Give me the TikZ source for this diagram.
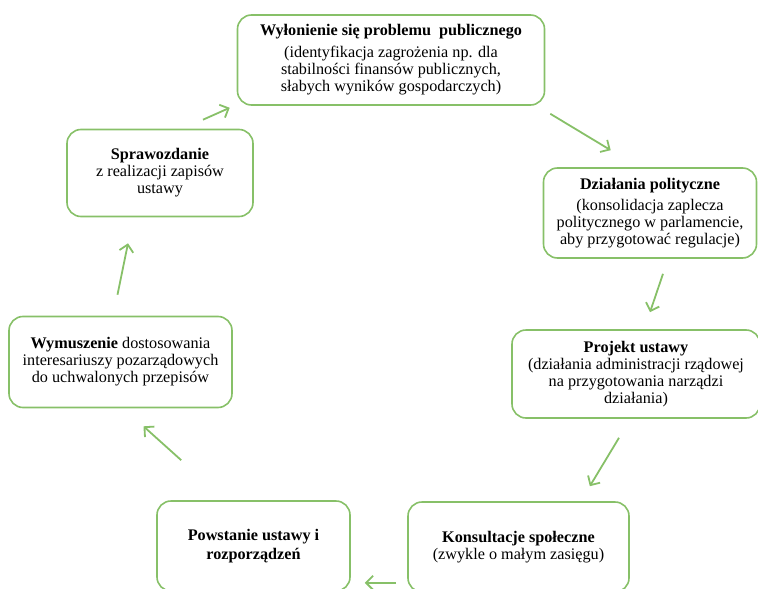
\documentclass[tikz,border=0pt]{standalone}
\usepackage{fontspec}
\setmainfont{Liberation Serif}
\usetikzlibrary{arrows.meta}
\definecolor{zielony}{RGB}{135,192,104}
\begin{document}
\begin{tikzpicture}[x=1pt,y=-1pt,
  etap/.style={draw=zielony, line width=1.6pt, rounded corners=14pt, rectangle, align=center,
    inner sep=0pt, font=\fontsize{16.2}{17}\selectfont},
  strz/.style={draw=zielony, line width=1.8pt, -{Straight Barb[length=7pt,width=14pt]}}]
\useasboundingbox (0,0) rectangle (758,589);
\node[etap, minimum width=307pt, minimum height=90pt] (w) at (391,60) {\textbf{Wyłonienie się problemu\ \ publicznego}\\[5pt](identyfikacja zagrożenia np. dla\\stabilności finansów publicznych,\\słabych wyników gospodarczych)};
\node[etap, minimum width=213pt, minimum height=90pt] (d) at (650,213) {\textbf{Działania polityczne}\\[4pt](konsolidacja zaplecza\\politycznego w parlamencie,\\aby przygotować regulacje)};
\node[etap, minimum width=248pt, minimum height=88pt] (p) at (636,374) {\textbf{Projekt ustawy}\\(działania administracji rządowej\\na przygotowania narządzi\\działania)};
\node[etap, minimum width=221pt, minimum height=90pt] (k) at (518.5,547) {\textbf{Konsultacje społeczne}\\(zwykle o małym zasięgu)};
\node[etap, minimum width=193pt, minimum height=90pt] (u) at (253.5,546) {\textbf{Powstanie ustawy i}\\[2pt]\textbf{rozporządzeń}};
\node[etap, minimum width=223pt, minimum height=91pt] (m) at (120.5,362) {\textbf{Wymuszenie} dostosowania\\interesariuszy pozarządowych\\do uchwalonych przepisów};
\node[etap, minimum width=186pt, minimum height=87pt] (s) at (160,173) {\textbf{Sprawozdanie}\\z realizacji zapisów\\ustawy};
\draw[strz] ([shift={(43,-9)}]s.north) -- ([shift={(-7,2)}]w.south west);
\draw[strz] ([shift={(5,8)}]w.south east) -- ([shift={(68,-17)}]d.north west);
\draw[strz] ([shift={(13,15)}]d.south) -- ([shift={(14,-17)}]p.north);
\draw[strz] ([shift={(-17,19)}]p.south) -- ([shift={(-40,-15)}]k.north east);
\draw[strz] ([shift={(-11,-10)}]k.south west) -- ([shift={(14,-9)}]u.south east);
\draw[strz] ([shift={(25,-40)}]u.north west) -- ([shift={(23,18)}]m.south);
\draw[strz] ([shift={(-3,-21)}]m.north) -- ([shift={(-32,26)}]s.south);
\end{tikzpicture}
\end{document}
